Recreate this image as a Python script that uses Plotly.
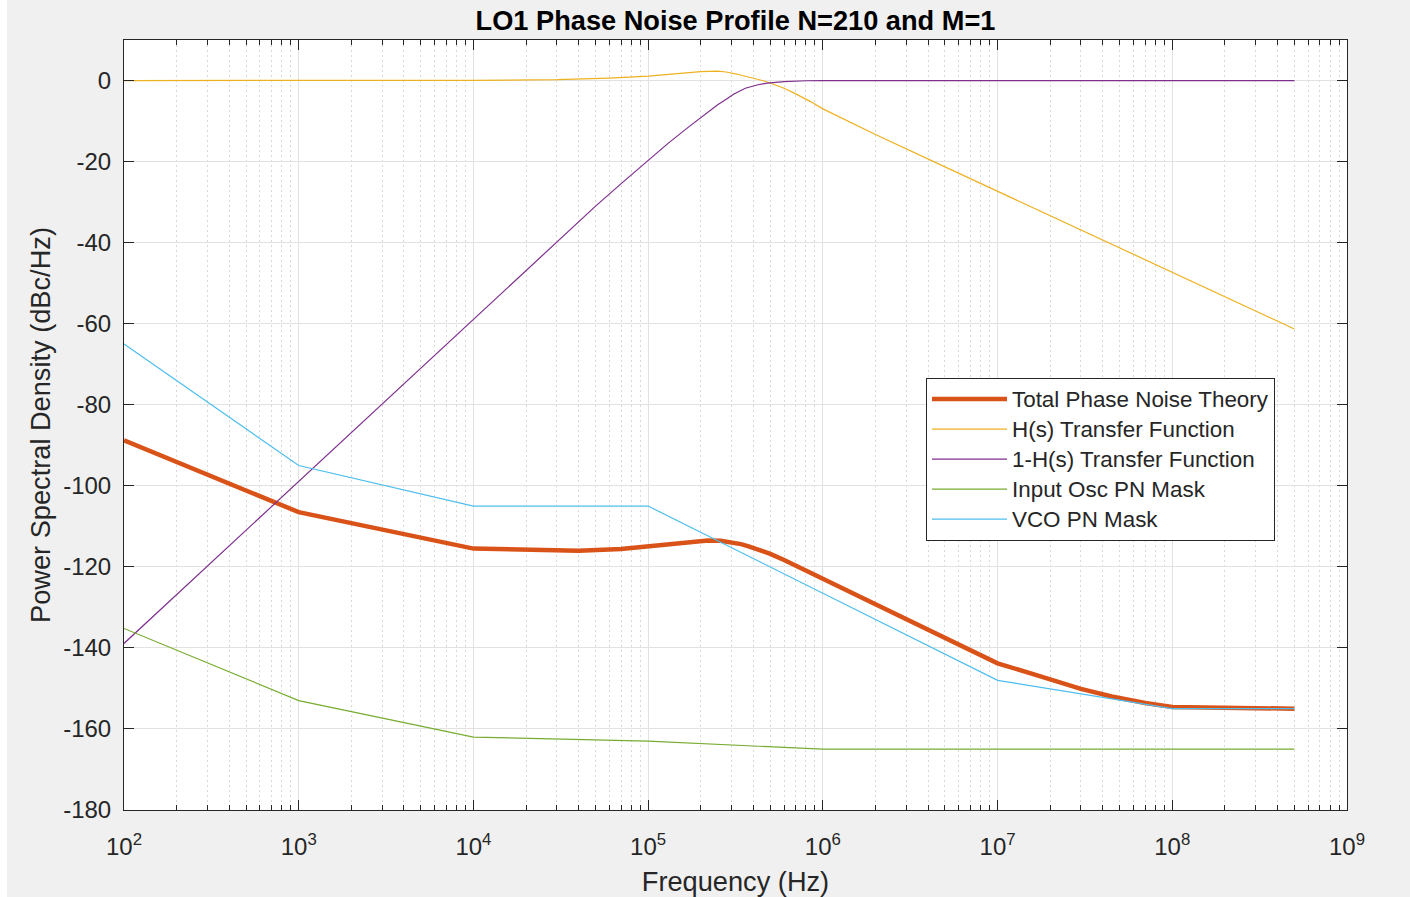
import plotly.graph_objects as go

# ---------------- data ----------------
freq_total = [1e2, 1e3, 1e4, 2e4, 4e4, 7e4, 1e5, 1.5e5, 2e5, 2.2e5, 2.6e5, 3e5, 3.4e5,
              3.8e5, 4.4e5, 5e5, 6e5, 7e5, 8.5e5, 1e6, 3e6, 1e7, 1.5e7, 2e7, 3e7,
              4.5e7, 7e7, 1e8, 5e8]
total_pn = [-88.8, -106.5, -115.5, -115.8, -116.0, -115.6, -114.9, -114.1, -113.6,
            -113.5, -113.55, -113.9, -114.4, -115.0, -115.9, -116.8, -118.3, -119.7,
            -121.5, -123.0, -133.0, -143.8, -146.1, -147.8, -150.1, -152.0, -153.6,
            -154.6, -155.0]

freq_h = [1e2, 1e3, 1e4, 3e4, 6e4, 1e5, 1.5e5, 2e5, 2.5e5, 2.8e5, 3.2e5, 3.6e5, 4e5,
          4.5e5, 5e5, 6e5, 7e5, 8.5e5, 1e6, 1.5e6, 2e6, 5e6, 1e7, 1e8, 5e8]
h_tf = [0.0, 0.0, 0.05, 0.2, 0.6, 1.1, 1.8, 2.2, 2.3, 2.1, 1.6, 1.1, 0.6,
        0.0, -0.6, -1.9, -3.3, -5.2, -7.0, -10.8, -13.3, -21.3, -27.3, -47.3, -61.3]

freq_1mh = [1e2, 1e3, 1e4, 5e4, 7.2e4, 1e5, 1.3e5, 1.7e5, 2.1e5, 2.5e5, 2.8e5, 3.1e5,
            3.6e5, 4.2e5, 4.8e5, 6e5, 8e5, 1e6, 1e7, 1e8, 5e8]
one_minus_h = [-138.9, -98.9, -59.0, -31.0, -25.0, -19.6, -15.5, -11.5, -8.4, -6.0,
               -4.6, -3.3, -1.9, -1.1, -0.65, -0.25, -0.05, 0.0, 0.0, 0.0, 0.0]

freq_mask = [1e2, 1e3, 1e4, 1e5, 1e6, 1e7, 1e8, 5e8]
input_osc_pn = [-135.2, -153.0, -162.0, -163.0, -165.0, -165.0, -165.0, -165.0]
vco_pn = [-65.0, -95.0, -105.0, -105.0, -126.5, -148.0, -155.0, -155.0]

series_names = ["Total Phase Noise Theory", "H(s) Transfer Function",
                "1-H(s) Transfer Function", "Input Osc PN Mask", "VCO PN Mask"]

x_tickvals = [1e2, 1e3, 1e4, 1e5, 1e6, 1e7, 1e8, 1e9]
x_ticktext = ["10<sup>%d</sup>" % e for e in range(2, 10)]
y_tickvals = [-180, -160, -140, -120, -100, -80, -60, -40, -20, 0]
y_ticktext = ["-180", "-160", "-140", "-120", "-100", "-80", "-60", "-40", "-20", "0"]

# ---------------- styling ----------------
FONT = "Liberation Sans, Arial, sans-serif"
AX = "#262626"
colors = ["#D95319", "#EDB120", "#7E2F8E", "#77AC30", "#4DBEEE"]
widths = [4.5, 1.2, 1.2, 1.2, 1.2]

fig = go.Figure()
xs = [freq_total, freq_h, freq_1mh, freq_mask, freq_mask]
ys = [total_pn, h_tf, one_minus_h, input_osc_pn, vco_pn]
for x, y, name, c, w in zip(xs, ys, series_names, colors, widths):
    fig.add_trace(go.Scatter(x=x, y=y, mode="lines",
                             name='<span style="font-size:22.4px">%s</span>' % name,
                             line=dict(color=c, width=w)))

minor_vals = [m * 10 ** e for e in range(2, 9) for m in range(2, 10)]

fig.update_xaxes(
    type="log", range=[2, 9],
    showline=True, linecolor=AX, linewidth=1, mirror="allticks",
    ticks="inside", ticklen=10, tickcolor=AX, tickwidth=1,
    tickvals=x_tickvals, ticktext=x_ticktext,
    tickfont=dict(family=FONT, size=24, color=AX),
    ticklabelstandoff=15,
    showgrid=True, gridcolor="#E2E2E2", gridwidth=1,
    zeroline=False,
    minor=dict(tickvals=minor_vals, ticks="inside", ticklen=5, tickcolor=AX,
               showgrid=True, gridcolor="#D8D8D8", griddash="2px,3px", gridwidth=1),
    title=dict(text="Frequency (Hz)", font=dict(family=FONT, size=27.2, color=AX),
               standoff=13),
)
fig.update_yaxes(
    range=[-180, 10],
    showline=True, linecolor=AX, linewidth=1, mirror="allticks",
    ticks="inside", ticklen=10, tickcolor=AX, tickwidth=1,
    tickvals=y_tickvals, ticktext=y_ticktext,
    tickfont=dict(family=FONT, size=24, color=AX),
    ticklabelstandoff=7,
    showgrid=True, gridcolor="#E2E2E2", gridwidth=1,
    zeroline=False,
    title=dict(text="Power Spectral Density (dBc/Hz)",
               font=dict(family=FONT, size=27.2, color=AX), standoff=4),
)

fig.update_layout(
    width=1410, height=897,
    margin=dict(l=124, r=63, t=40, b=87, autoexpand=False),
    paper_bgcolor="#F0F0F0", plot_bgcolor="#FFFFFF",
    title=dict(text="<b>LO1 Phase Noise Profile N=210 and M=1</b>",
               x=0.5, xref="paper", xanchor="center",
               y=1 - 20 / 897, yref="container", yanchor="middle",
               font=dict(family=FONT, size=27.2, color="#000000")),
    legend=dict(x=(1275 - 124) / 1223, xanchor="right",
                y=(810 - 378) / 770, yanchor="top",
                bgcolor="#FFFFFF", bordercolor=AX, borderwidth=1,
                font=dict(family=FONT, size=20.8, color=AX),
                itemwidth=75, tracegroupgap=0),
    showlegend=True,
    shapes=[dict(type="rect", xref="paper", yref="paper",
                 x0=-0.2, x1=(7 - 124) / 1223, y0=-0.2, y1=1.2,
                 fillcolor="#FFFFFF", line=dict(width=0), layer="below")],
)

fig.write_html("out.html")
